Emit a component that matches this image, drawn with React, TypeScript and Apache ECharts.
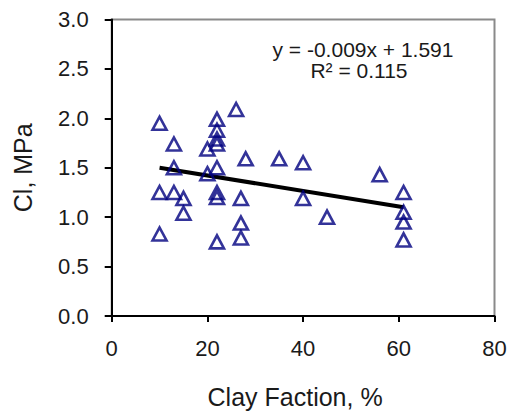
import React, { useEffect, useRef } from "react";
import * as echarts from "echarts";

const clayFraction = [
  10, 10, 10,
  13, 13, 13,
  15, 15,
  20, 20,
  22, 22, 22, 22, 22, 22, 22, 22,
  26, 27, 27, 27, 28,
  35, 40, 40, 45,
  56, 61, 61, 61, 61,
];
const ciValues = [
  1.95, 1.25, 0.83,
  1.74, 1.50, 1.25,
  1.19, 1.04,
  1.69, 1.44,
  1.99, 1.88, 1.79, 1.74, 1.50, 1.25, 1.20, 0.75,
  2.09, 1.19, 0.94, 0.79, 1.59,
  1.59, 1.55, 1.19, 1.00,
  1.43, 1.25, 1.05, 0.95, 0.77,
];
const trendX = [10, 61];
const trendY = [1.5, 1.1];
const xTicks = [0, 20, 40, 60, 80];
const yTicks = [0, 0.5, 1.0, 1.5, 2.0, 2.5, 3.0];
const equationText = "y = -0.009x + 1.591";
const r2Text = "R\u00b2 = 0.115";
const xTitle = "Clay Faction, %";
const yTitle = "Cl, MPa";

const FONT = "'Liberation Sans', Arial, sans-serif";
const TXT = "#1a1a1a";

export default function App() {
  const ref = useRef<HTMLDivElement>(null);
  useEffect(() => {
    document.body.style.margin = "0";
    if (!ref.current) return;
    const chart = echarts.init(ref.current, undefined, { renderer: "svg" });
    const points = clayFraction.map((x, i) => [x, ciValues[i]]);
    const trend = trendX.map((x, i) => [x, trendY[i]]);
    chart.setOption({
      animation: false,
      backgroundColor: "#ffffff",
      textStyle: { fontFamily: FONT },
      grid: {
        left: 111.7,
        right: 18.5,
        top: 19.5,
        bottom: 94,
        show: true,
        borderColor: "#8a8a8a",
        borderWidth: 2,
        backgroundColor: "transparent",
      },
      xAxis: {
        type: "value",
        min: xTicks[0],
        max: xTicks[xTicks.length - 1],
        interval: 20,
        axisLine: { show: true, onZero: false, lineStyle: { color: "#000", width: 2 } },
        axisTick: { show: true, length: 6, inside: false, lineStyle: { color: "#000", width: 2 } },
        splitLine: { show: false },
        axisLabel: { color: TXT, fontSize: 22, fontFamily: FONT, margin: 21 },
        name: xTitle,
        nameLocation: "middle",
        nameGap: 68,
        nameTextStyle: { color: TXT, fontSize: 25, fontFamily: FONT, padding: [0, 16, 0, 0] },
      },
      yAxis: {
        type: "value",
        min: yTicks[0],
        max: yTicks[yTicks.length - 1],
        interval: 0.5,
        axisLine: { show: true, onZero: false, lineStyle: { color: "#000", width: 2 } },
        axisTick: { show: true, length: 7, inside: false, lineStyle: { color: "#000", width: 2 } },
        splitLine: { show: false },
        axisLabel: {
          color: TXT,
          fontSize: 22,
          fontFamily: FONT,
          margin: 23,
          formatter: (v: number) => v.toFixed(1),
        },
        name: yTitle,
        nameLocation: "middle",
        nameGap: 76,
        nameTextStyle: { color: TXT, fontSize: 25, fontFamily: FONT },
      },
      series: [
        {
          type: "line",
          data: trend,
          showSymbol: false,
          symbol: "none",
          lineStyle: { color: "#000", width: 4 },
          z: 3,
          silent: true,
        },
        {
          type: "scatter",
          data: points,
          symbol: "triangle",
          symbolSize: [14, 13],
          itemStyle: { color: "rgba(255,255,255,0)", borderColor: "#000080", borderWidth: 2.6 },
          z: 4,
        },
      ],
      graphic: [
        {
          type: "text",
          x: 363,
          y: 49,
          style: {
            text: equationText,
            fontSize: 21,
            fontFamily: FONT,
            fill: TXT,
            align: "center",
            verticalAlign: "middle",
          },
        },
        {
          type: "text",
          x: 359,
          y: 70.5,
          style: {
            text: r2Text,
            fontSize: 21,
            fontFamily: FONT,
            fill: TXT,
            align: "center",
            verticalAlign: "middle",
          },
        },
      ],
    });
    return () => chart.dispose();
  }, []);
  return <div ref={ref} style={{ width: 513, height: 414 }} />;
}
